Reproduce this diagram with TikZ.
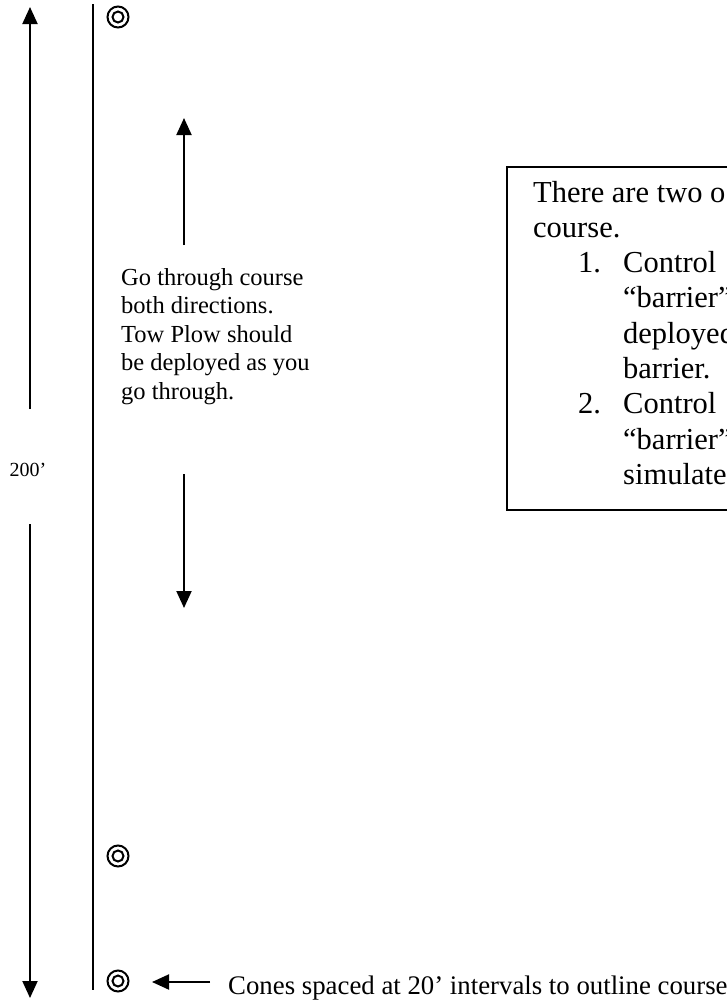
\documentclass[tikz,border=0pt]{standalone}
\usepackage{fontspec}
\setmainfont{Liberation Serif}
\usetikzlibrary{arrows.meta}
\begin{document}
\begin{tikzpicture}[x=1pt,y=-1pt,
  rule/.style={line width=2pt},
  arr/.style={line width=2pt,-{Triangle[length=17pt,width=15pt]}},
  cone/.style={circle,draw,line width=2pt,minimum size=21pt,inner sep=0pt,
    path picture={\draw[line width=2pt] (path picture bounding box.center) circle (5.5pt);}},
  boxtxt/.style={font=\fontsize{30.5}{35.3}\selectfont,anchor=base west,inner sep=0pt},
  sidetxt/.style={font=\fontsize{24.5}{28.6}\selectfont,anchor=base west,inner sep=0pt},
  frame/.style={draw,line width=1.5pt,anchor=north west,inner sep=0pt}]
\useasboundingbox (0,0) rectangle (727,1005);
\clip (0,0) rectangle (727,1005);
% main course line
\coordinate (mainTop) at (93,4);
\coordinate (mainBot) at (93,990);
\draw[rule] (mainTop) -- (mainBot);
% 200' dimension arrows
\node[font=\fontsize{20}{24}\selectfont,inner sep=0pt] (dim) at (28,470) {200’};
\coordinate (dimUpStart) at (30,409);
\coordinate (dimUpTip) at (30,7);
\coordinate (dimDnStart) at (30,524);
\coordinate (dimDnTip) at (30,998);
\draw[arr] (dimUpStart) -- (dimUpTip);
\draw[arr] (dimDnStart) -- (dimDnTip);
% direction arrows
\coordinate (dirUpStart) at (184,245);
\coordinate (dirUpTip) at (184,118);
\coordinate (dirDnStart) at (184,474);
\coordinate (dirDnTip) at (184,608);
\draw[arr] (dirUpStart) -- (dirUpTip);
\draw[arr] (dirDnStart) -- (dirDnTip);
% cones
\node[cone] (cone1) at (118,17) {};
\node[cone] (cone2) at (118,856) {};
\node[cone] (cone3) at (118,981) {};
% side text
\node[sidetxt] (s1) at (121,285) {Go through course};
\node[sidetxt] (s2) at (121,313.6) {both directions.};
\node[sidetxt] (s3) at (121,342.2) {Tow Plow should};
\node[sidetxt] (s4) at (121,370.8) {be deployed as you};
\node[sidetxt] (s5) at (121,399.4) {go through.};
% box
\node[frame,minimum width=300pt,minimum height=343pt] (box) at (506,166) {};
\node[boxtxt] (b1) at (533,202) {There are two o};
\node[boxtxt] (b2) at (533,237.3) {course.};
\node[boxtxt] (n1) at (578,272.6) {1.};
\node[boxtxt] (b3) at (623,272.6) {Control};
\node[boxtxt] (b4) at (623,307.9) {“barrier”};
\node[boxtxt] (b5) at (623,343.2) {deployed};
\node[boxtxt] (b6) at (623,378.5) {barrier.};
\node[boxtxt] (n2) at (578,413.8) {2.};
\node[boxtxt] (b7) at (623,413.8) {Control};
\node[boxtxt] (b8) at (623,449.1) {“barrier”};
\node[boxtxt] (b9) at (623,484.4) {simulate};
% callout
\coordinate (callStart) at (210,982);
\coordinate (callTip) at (152,982);
\draw[arr] (callStart) -- (callTip);
\node[font=\fontsize{26.8}{31}\selectfont,anchor=base west,inner sep=0pt] (note) at (228,994) {Cones spaced at 20’ intervals to outline course};
\end{tikzpicture}
\end{document}
